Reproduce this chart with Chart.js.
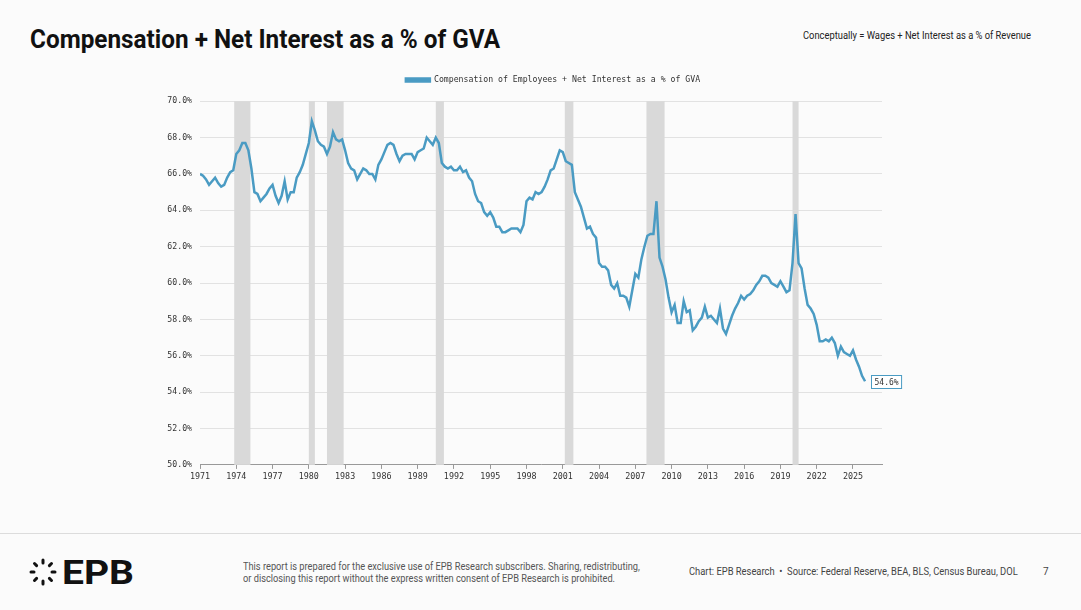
<!DOCTYPE html>
<html>
<head>
<meta charset="utf-8">
<script src="https://cdn.jsdelivr.net/npm/chart.js@4.4.1/dist/chart.umd.min.js"></script>
<style>
  html, body { margin: 0; padding: 0; background: #fbfbfb; }
  body { width: 1081px; height: 610px; position: relative; overflow: hidden; font-family: Roboto, sans-serif; }
  .narrow { transform-origin: 0 0; white-space: nowrap; }
  #title { position: absolute; left: 30px; top: 24px; font: 700 26px Roboto, sans-serif; color: #111; transform: scaleX(0.935); }
  #subtitle { position: absolute; left: 803px; top: 30px; font-size: 10px; color: #222; transform: scaleX(0.935); }
  #chart-wrap { position: absolute; left: 150px; top: 66px; width: 806px; height: 419px; }
  #rule { position: absolute; left: 0; top: 533px; width: 1081px; height: 1px; background: #dcdcdc; }
  #logo { position: absolute; left: 28px; top: 557px; }
  #disclaimer { position: absolute; left: 243px; top: 561px; font-size: 10px; line-height: 12px; color: #555; transform: scaleX(0.925); }
  #source { position: absolute; left: 689px; top: 566px; font-size: 10px; color: #444; transform: scaleX(0.937); }
  #page { position: absolute; left: 1043px; top: 566px; font-size: 10px; color: #444; }
</style>
</head>
<body>
<div id="title" class="narrow">Compensation + Net Interest as a % of GVA</div>
<div id="subtitle" class="narrow">Conceptually = Wages + Net Interest as a % of Revenue</div>
<div id="chart-wrap"><canvas id="chart" width="806" height="419"></canvas></div>
<div id="rule"></div>
<div id="logo">
  <svg width="120" height="30" viewBox="0 0 120 30">
    <g stroke="#111" stroke-width="3" stroke-linecap="round">
      <line x1="15" y1="3" x2="15" y2="6"/>
      <line x1="15" y1="24" x2="15" y2="27"/>
      <line x1="3" y1="15" x2="6" y2="15"/>
      <line x1="24" y1="15" x2="27" y2="15"/>
      <line x1="6.5" y1="6.5" x2="8.6" y2="8.6"/>
      <line x1="21.4" y1="21.4" x2="23.5" y2="23.5"/>
      <line x1="23.5" y1="6.5" x2="21.4" y2="8.6"/>
      <line x1="8.6" y1="21.4" x2="6.5" y2="23.5"/>
    </g>
    <text x="34" y="27" font-family="Roboto, sans-serif" font-weight="700" font-size="33" textLength="72" lengthAdjust="spacingAndGlyphs" fill="#111">EPB</text>
  </svg>
</div>
<div id="disclaimer" class="narrow">This report is prepared for the exclusive use of EPB Research subscribers. Sharing, redistributing,<br>or disclosing this report without the express written consent of EPB Research is prohibited.</div>
<div id="source" class="narrow">Chart: EPB Research &nbsp;•&nbsp; Source: Federal Reserve, BEA, BLS, Census Bureau, DOL</div>
<div id="page">7</div>

<script>
// Quarterly data, first point 1971 Q1
const firstYear = 1971;
const quarterStep = 0.25;
const seriesLabel = "Compensation of Employees + Net Interest as a % of GVA";
const shareValues = [
  66.0, 65.9, 65.7, 65.4, 65.6, 65.8, 65.5, 65.3, 65.4, 65.8,
  66.1, 66.2, 67.1, 67.3, 67.7, 67.7, 67.3, 66.3, 65.0, 64.9,
  64.5, 64.7, 64.9, 65.2, 65.4, 64.8, 64.4, 64.8, 65.6, 64.6,
  65.0, 65.0, 65.8, 66.1, 66.5, 67.1, 67.7, 68.9, 68.4, 67.8,
  67.6, 67.5, 67.1, 67.5, 68.3, 67.9, 67.8, 67.9, 67.3, 66.6,
  66.3, 66.2, 65.7, 66.0, 66.3, 66.2, 66.0, 66.0, 65.7, 66.5,
  66.8, 67.2, 67.6, 67.7, 67.6, 67.1, 66.7, 67.0, 67.1, 67.1,
  67.1, 66.8, 67.2, 67.3, 67.4, 68.0, 67.8, 67.6, 68.0, 67.7,
  66.6, 66.4, 66.3, 66.4, 66.2, 66.2, 66.4, 66.1, 66.2, 65.8,
  65.6, 64.9, 64.5, 64.4, 63.9, 63.7, 63.9, 63.6, 63.1, 63.1,
  62.8, 62.8, 62.9, 63.0, 63.0, 63.0, 62.8, 63.2, 64.5, 64.7,
  64.6, 65.0, 64.9, 65.0, 65.3, 65.7, 66.2, 66.3, 66.8, 67.3,
  67.2, 66.7, 66.6, 66.5, 65.0, 64.6, 64.2, 63.6, 63.0, 63.1,
  62.7, 62.5, 61.1, 60.9, 60.9, 60.7, 59.9, 59.7, 60.0, 59.3,
  59.3, 59.2, 58.7, 59.6, 60.5, 60.3, 61.3, 62.0, 62.6, 62.7,
  62.7, 64.5, 61.4, 60.9, 60.2, 59.2, 58.4, 58.8, 57.8, 57.8,
  59.0, 58.4, 58.5, 57.4, 57.6, 57.9, 58.1, 58.7, 58.1, 58.2,
  58.0, 57.8, 58.6, 57.5, 57.2, 57.7, 58.2, 58.6, 58.9, 59.3,
  59.1, 59.3, 59.4, 59.6, 59.9, 60.1, 60.4, 60.4, 60.3, 60.0,
  59.9, 59.8, 60.1, 59.8, 59.5, 59.6, 61.1, 63.8, 61.1, 60.8,
  59.7, 58.8, 58.6, 58.3, 57.7, 56.8, 56.8, 56.9, 56.8, 57.0,
  56.7, 56.0, 56.5, 56.2, 56.1, 56.0, 56.3, 55.8, 55.4, 54.9,
  54.6
];

// NBER recessions (start, end) in fractional years
const recessions = [
  [1973.83, 1975.17],
  [1980.0, 1980.5],
  [1981.5, 1982.88],
  [1990.5, 1991.17],
  [2001.17, 2001.88],
  [2007.92, 2009.42],
  [2020.0, 2020.5]
];

// Axis settings
const yTicks = { min: 50, max: 70, step: 2 };
const xTicks = { min: 1971, max: 2027.4, step: 3, last: 2025 };

const lineColor = "#4a9bc3";
const monoFont = "'DejaVu Sans Mono', 'Liberation Mono', monospace";

const points = shareValues.map((v, i) => ({ x: firstYear + i * quarterStep, y: v }));

// Grey recession bands behind the line
const recessionBands = {
  id: "recessionBands",
  beforeDatasetsDraw(chart) {
    const { ctx, chartArea, scales } = chart;
    ctx.save();
    ctx.fillStyle = "#d9d9d9";
    recessions.forEach(([a, b]) => {
      const x1 = scales.x.getPixelForValue(a);
      const x2 = scales.x.getPixelForValue(b);
      ctx.fillRect(x1, chartArea.top, x2 - x1, chartArea.bottom - chartArea.top);
    });
    ctx.restore();
  }
};

// Extra gap under the legend, and legend centred a bit to the right
const legendTweak = {
  id: "legendTweak",
  beforeInit(chart) {
    const fit = chart.legend.fit;
    chart.legend.fit = function () {
      fit.call(this);
      this.height += 7;
    };
  },
  afterLayout(chart) {
    chart.legend.left += 37;
    chart.legend.right += 37;
  }
};

// Boxed label for the last value
const lastValueLabel = {
  id: "lastValueLabel",
  afterDatasetsDraw(chart) {
    const { ctx } = chart;
    const meta = chart.getDatasetMeta(0);
    const pt = meta.data[meta.data.length - 1];
    const text = shareValues[shareValues.length - 1].toFixed(1) + "%";
    ctx.save();
    ctx.font = "8px " + monoFont;
    const w = ctx.measureText(text).width + 6;
    const bx = Math.round(pt.x + 6) + 0.5;
    const by = Math.round(pt.y - 6) + 0.5;
    ctx.fillStyle = "#ffffff";
    ctx.fillRect(bx, by, w, 13);
    ctx.strokeStyle = lineColor;
    ctx.lineWidth = 1;
    ctx.strokeRect(bx, by, w, 13);
    ctx.fillStyle = "#333";
    ctx.textBaseline = "middle";
    ctx.fillText(text, bx + 3, by + 7);
    ctx.restore();
  }
};

function loadChart() {
  new Chart(document.getElementById("chart"), {
    type: "line",
    data: {
      datasets: [{
        label: seriesLabel,
        data: points,
        borderColor: lineColor,
        backgroundColor: lineColor,
        borderWidth: 2.5,
        pointRadius: 0,
        tension: 0
      }]
    },
    options: {
      responsive: false,
      animation: false,
      layout: { padding: { left: 0, right: 74, top: 0, bottom: 0 } },
      plugins: {
        legend: {
          labels: {
            boxWidth: 24,
            boxHeight: 3,
            padding: 10,
            color: "#333",
            font: { family: monoFont, size: 8.2 }
          }
        },
        tooltip: { enabled: false }
      },
      scales: {
        x: {
          type: "linear",
          min: xTicks.min,
          max: xTicks.max,
          afterBuildTicks(scale) {
            const ticks = [];
            for (let y = xTicks.min; y <= xTicks.last; y += xTicks.step) ticks.push({ value: y });
            scale.ticks = ticks;
          },
          ticks: {
            autoSkip: false,
            maxRotation: 0,
            padding: 3,
            color: "#333",
            font: { family: monoFont, size: 8.4 },
            callback: v => String(v)
          },
          grid: { drawOnChartArea: false, drawTicks: true, tickLength: 4, color: "#999" },
          border: { display: true, color: "#999" }
        },
        y: {
          min: yTicks.min,
          max: yTicks.max,
          afterFit(scale) { scale.width = 50; },
          ticks: {
            stepSize: yTicks.step,
            padding: 8,
            color: "#333",
            font: { family: monoFont, size: 8.2 },
            callback: v => v.toFixed(1) + "%"
          },
          grid: { color: "#e2e2e2", drawTicks: false },
          border: { display: false }
        }
      }
    },
    plugins: [recessionBands, legendTweak, lastValueLabel]
  });
}

loadChart();
</script>
</body>
</html>
